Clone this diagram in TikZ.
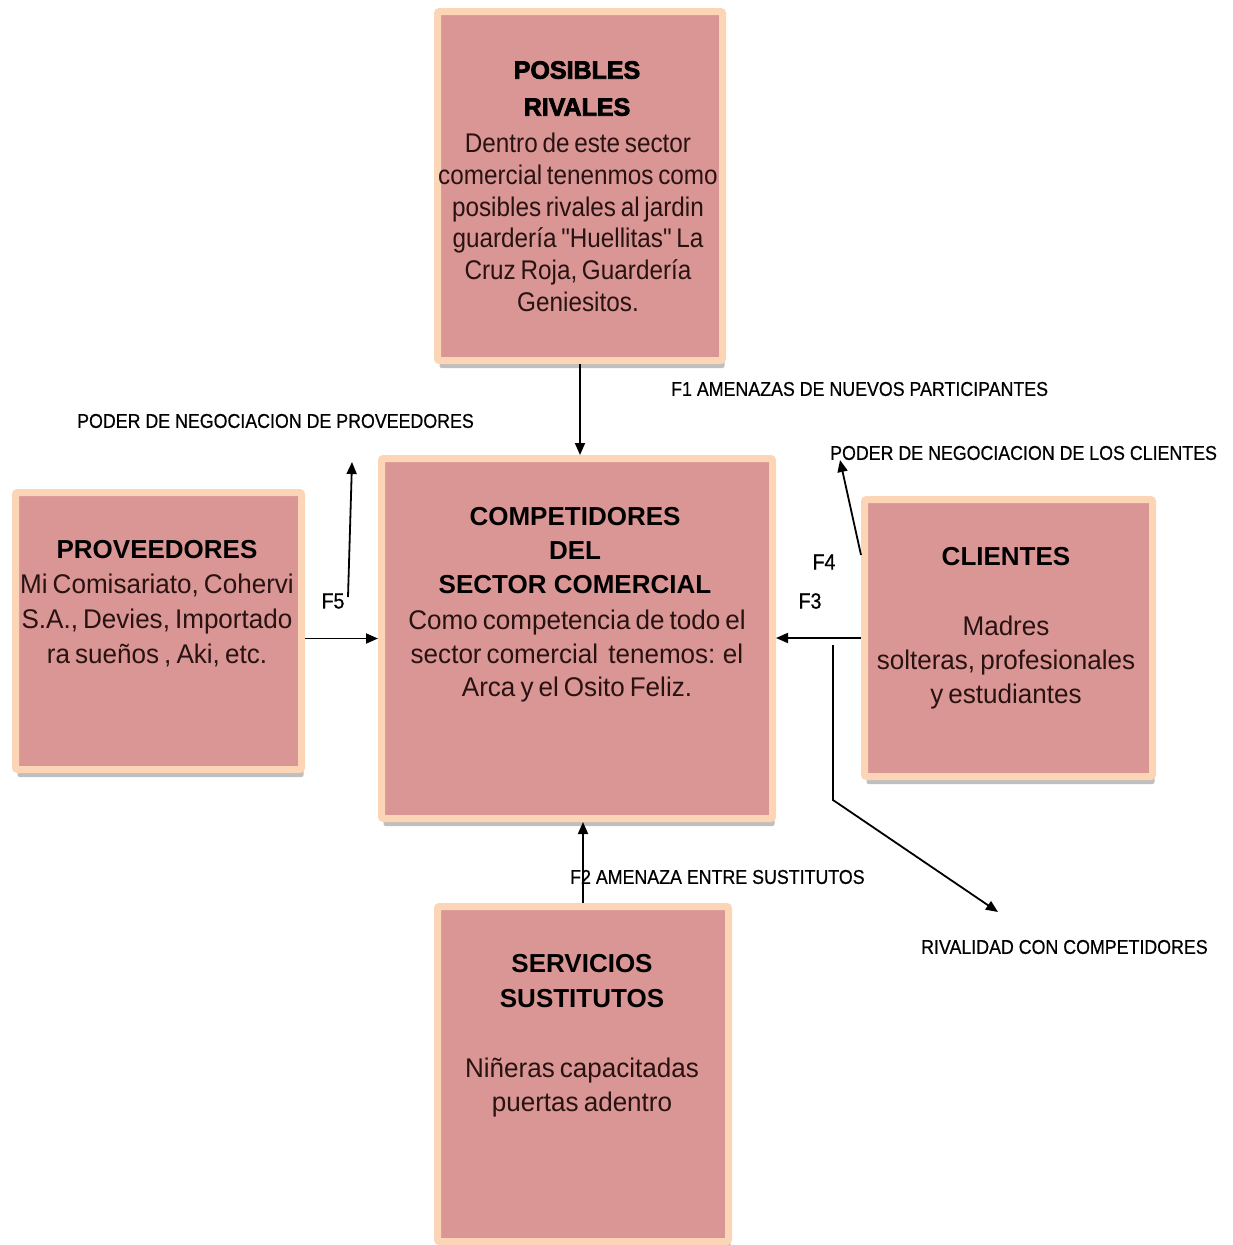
\documentclass[tikz,border=0pt]{standalone}
\usepackage{fontspec}
\setmainfont{Liberation Sans}
\newfontfamily\bodyf{Liberation Sans}[FakeStretch=0.9, WordSpace=0.7]
\newfontfamily\bodyw{Liberation Sans}[FakeStretch=0.965, WordSpace=0.7]
\newfontfamily\heavyf{Liberation Sans}[BoldFeatures={FakeBold=3}]
\newfontfamily\labf{Liberation Sans}[FakeStretch=0.89, FakeBold=0.6]
\usetikzlibrary{arrows.meta,shadows}
\definecolor{boxfill}{RGB}{218,150,148}
\definecolor{boxrim}{RGB}{251,213,181}
\definecolor{ink}{RGB}{40,18,18}

\begin{document}
\begin{tikzpicture}[x=1pt,y=-1pt,
  forcebox/.style={draw=boxrim, line width=7pt, fill=boxfill, rounded corners=2pt,
    inner sep=0pt, drop shadow={shadow xshift=2pt, shadow yshift=-7.5pt, fill=black, opacity=0.25}},
  headtxt/.style={inner sep=0pt, anchor=north, align=center, font=\bfseries\fontsize{26}{35}\selectfont},
  bodytxt/.style={inner sep=0pt, anchor=north, align=center, text=ink},
  lbl/.style={inner sep=0pt, anchor=west, font=\labf\fontsize{20}{24}\selectfont},
  flbl/.style={inner sep=0pt, font=\labf\fontsize{22}{24}\selectfont},
  arr/.style={-{Triangle[length=12pt,width=10pt]}, line width=1.8pt}
]
\fill[white] (0,0) rectangle (1233,1245);
\useasboundingbox (0,0) rectangle (1233,1245);

% the five forces
\node[forcebox, minimum width=285, minimum height=349] (riv)  at (580,186) {};
\node[forcebox, minimum width=286, minimum height=277] (prov) at (158.5,631) {};
\node[forcebox, minimum width=391, minimum height=360] (comp) at (577,638.5) {};
\node[forcebox, minimum width=288, minimum height=277] (cli)  at (1008.5,638) {};
\node[forcebox, minimum width=291, minimum height=335] (serv) at (583,1074) {};

% box texts
\node[headtxt, font=\heavyf\bfseries\fontsize{25}{37}\selectfont] (rivhead) at (577,61) {POSIBLES\\RIVALES};
\node[bodytxt, font=\bodyf\fontsize{27}{31.7}\selectfont] (rivbody) at (578,133)
  {Dentro de este sector\\comercial tenenmos como\\posibles rivales al jardin\\guardería "Huellitas" La\\Cruz Roja, Guardería\\Geniesitos.};

\node[headtxt, font=\bfseries\fontsize{26}{34}\selectfont] (comphead) at (575,507) {COMPETIDORES\\DEL\\SECTOR COMERCIAL};
\node[bodytxt, font=\bodyw\fontsize{27}{33.5}\selectfont] (compbody) at (577,610)
  {Como competencia de todo el\\sector comercial\ \ tenemos: el\\Arca y el Osito Feliz.};

\node[headtxt] (provhead) at (157,540) {PROVEEDORES};
\node[bodytxt, font=\bodyw\fontsize{27}{35}\selectfont] (provbody) at (157,574)
  {Mi Comisariato, Cohervi\\S.A., Devies, Importado\\ra sueños , Aki, etc.};

\node[headtxt] (clihead) at (1006,547) {CLIENTES};
\node[bodytxt, font=\bodyw\fontsize{27}{34}\selectfont] (clibody) at (1006,616)
  {Madres\\solteras, profesionales\\y estudiantes};

\node[headtxt] (servhead) at (582,954) {SERVICIOS\\SUSTITUTOS};
\node[bodytxt, font=\bodyw\fontsize{27}{34}\selectfont] (servbody) at (582,1058)
  {Niñeras capacitadas\\puertas adentro};

% force labels
\node[lbl] (f1lbl) at (671,389) {F1 AMENAZAS DE NUEVOS PARTICIPANTES};
\node[lbl] (provlbl) at (77,421) {PODER DE NEGOCIACION DE PROVEEDORES};
\node[lbl] (clilbl) at (830,453) {PODER DE NEGOCIACION DE LOS CLIENTES};
\node[lbl] (f2lbl) at (570,877) {F2 AMENAZA ENTRE SUSTITUTOS};
\node[lbl] (rivlbl) at (921,947) {RIVALIDAD CON COMPETIDORES};
\node[flbl] (f5) at (333,601) {F5};
\node[flbl] (f4) at (824,562) {F4};
\node[flbl] (f3) at (810,601) {F3};

% connector end points
\coordinate (f5from) at (348,597);
\coordinate (f5to) at (352,462);
\coordinate (f4to) at (840,460);
\coordinate (rvfrom) at (833,645);
\coordinate (rvbend) at (833,800);
\coordinate (rvto) at (998,912);

% connectors
\draw[arr] (riv.south) -- (riv.south |- comp.north);
\draw[arr] (comp.west -| prov.east) -- (comp.west);
\draw[arr] (f5from) -- (f5to);
\draw[arr] (cli.west) -- (cli.west -| comp.east);
\draw[arr] ([yshift=83pt]cli.west) -- (f4to);
\draw[arr] (rvfrom) -- (rvbend) -- (rvto);
\draw[arr] (serv.north) -- (serv.north |- comp.south);
\end{tikzpicture}
\end{document}
